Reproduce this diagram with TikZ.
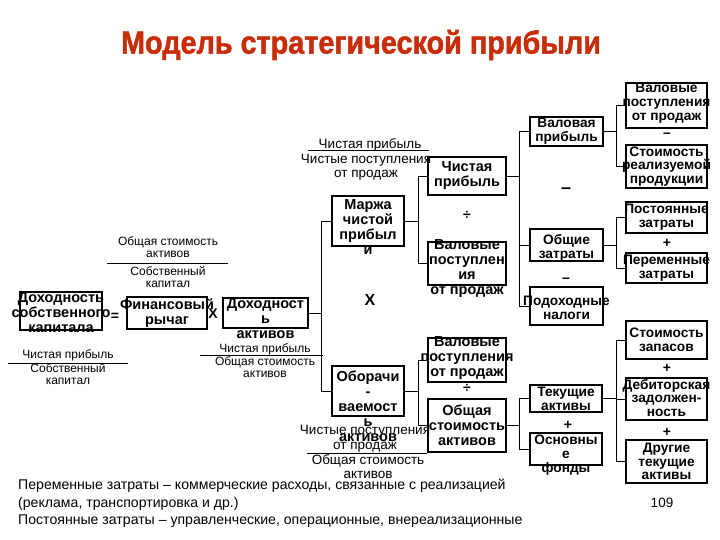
\documentclass[tikz,border=0pt]{standalone}
\usepackage{fontspec}
\setmainfont{Liberation Sans}
\newfontfamily\titlefont[FakeStretch=0.9, BoldFeatures={FakeBold=1.5}]{Liberation Sans}
\usetikzlibrary{positioning}
\definecolor{titlered}{RGB}{200,45,10}

\begin{document}
\begin{tikzpicture}[x=1pt, y=-1pt,
    box/.style={rectangle, draw, line width=1.8pt, inner sep=0pt},
    btxt/.style={align=center, font=\fontsize{14.5}{15}\selectfont\bfseries, inner sep=0pt},
    rtxt/.style={align=center, font=\fontsize{13.7}{13.8}\selectfont\bfseries, inner sep=0pt},
    frac/.style={align=center, font=\fontsize{12}{12.5}\selectfont, inner sep=0pt},
    bigfrac/.style={align=center, font=\fontsize{13.5}{14.5}\selectfont, inner sep=0pt},
    op/.style={font=\fontsize{14}{14}\selectfont\bfseries, inner sep=0pt},
    conn/.style={line width=0.8pt}]
    \useasboundingbox[fill=white] (0,0) rectangle (720,540);

    % title
    \node[font=\titlefont\fontsize{32}{32}\selectfont\bfseries, text=titlered] (title) at (361,45) {Модель стратегической прибыли};

    % left part: return on equity
    \node[box, minimum width=82pt, minimum height=38pt, label={[btxt, yshift=-2pt]center:{Доходность\\собственного\\капитала}}] (roe) at (61,311) {};
    \node[op] (eq) at (115,317) {=};
    \node[box, minimum width=80pt, minimum height=32pt, label={[btxt]center:{Финансовый\\рычаг}}] (lev) at (167,313) {};
    \node[op] (times1) at (213,314) {X};
    \node[box, minimum width=85pt, minimum height=30pt, label={[btxt, yshift=-6pt]center:{Доходност\\ь\\активов}}] (roa) at (265.5,313) {};

    % second level
    \node[box, minimum width=72pt, minimum height=50pt, label={[btxt, yshift=-6.5pt]center:{Маржа\\чистой\\прибыл\\и}}] (margin) at (368,221) {};
    \node[op, font=\fontsize{16}{16}\selectfont\bfseries] (times2) at (370,300) {X};
    \node[box, minimum width=72pt, minimum height=50pt, label={[btxt, yshift=-15pt]center:{Оборачи\\-\\ваемост\\ь\\активов}}] (turn) at (368,391) {};

    % third level
    \node[box, minimum width=78pt, minimum height=38pt, label={[btxt]center:{Чистая\\прибыль}}] (np) at (467,176) {};
    \node[op] (div1) at (467,215) {÷};
    \node[box, minimum width=78pt, minimum height=43pt, label={[btxt, yshift=-5.5pt]center:{Валовые\\поступлен\\ия\\от продаж}}] (sales1) at (467,263.5) {};
    \node[box, minimum width=78pt, minimum height=44pt, label={[btxt, yshift=1.5pt]center:{Валовые\\поступления\\от продаж}}] (sales2) at (467,360) {};
    \node[op] (div2) at (467,388) {÷};
    \node[box, minimum width=78pt, minimum height=53pt, label={[btxt]center:{Общая\\стоимость\\активов}}] (ta) at (467,425.5) {};

    % fourth level
    \node[box, minimum width=73pt, minimum height=29pt, label={[rtxt]center:{Валовая\\прибыль}}] (gp) at (566.5,131.5) {};
    \node[op, font=\fontsize{18}{18}\selectfont\bfseries] (minus1) at (566,191) {–};
    \node[box, minimum width=73pt, minimum height=32pt, label={[rtxt, yshift=-3pt]center:{Общие\\затраты}}] (tc) at (566.5,245) {};
    \node[op] (minus2) at (566,280) {–};
    \node[box, minimum width=73pt, minimum height=38pt, label={[rtxt, yshift=-1.5pt]center:{Подоходные\\налоги}}] (tax) at (566.5,306) {};
    \node[box, minimum width=72pt, minimum height=27pt, label={[rtxt]center:{Текущие\\активы}}] (ca) at (566,398.5) {};
    \node[op] (plus1) at (568,425) {+};
    \node[box, minimum width=72pt, minimum height=32pt, label={[rtxt, yshift=-6pt]center:{Основны\\е\\фонды}}] (fa) at (566,449) {};

    % fifth level
    \node[box, minimum width=81pt, minimum height=45pt, label={[rtxt, yshift=2pt]center:{Валовые\\поступления\\от продаж}}] (sales3) at (666.5,105.5) {};
    \node[op] (minus3) at (667,135) {–};
    \node[box, minimum width=81pt, minimum height=43pt, label={[rtxt]center:{Стоимость\\реализуемой\\продукции}}] (cogs) at (666.5,166.5) {};
    \node[box, minimum width=81pt, minimum height=31pt, label={[rtxt]center:{Постоянные\\затраты}}] (fc) at (666.5,217.5) {};
    \node[op] (plus2) at (667,243) {+};
    \node[box, minimum width=81pt, minimum height=30pt, label={[rtxt]center:{Переменные\\затраты}}] (vc) at (666.5,268) {};
    \node[box, minimum width=81pt, minimum height=38pt, label={[rtxt]center:{Стоимость\\запасов}}] (inv) at (666.5,340) {};
    \node[op] (plus3) at (667,368) {+};
    \node[box, minimum width=81pt, minimum height=42pt, label={[rtxt, yshift=1pt]center:{Дебиторская\\задолжен-\\ность}}] (ar) at (666.5,399) {};
    \node[op] (plus4) at (667,432) {+};
    \node[box, minimum width=81pt, minimum height=43pt, label={[rtxt]center:{Другие\\текущие\\активы}}] (oca) at (666.5,461.5) {};

    % fractions
    \node[frac] (levtop) at (168,247) {Общая стоимость\\активов};
    \node[frac] (levbot) at (168,277) {Собственный\\капитал};
    \draw[conn] (107,263) -- (228,263);
    \node[frac] (roetop) at (68,355) {Чистая прибыль};
    \node[frac] (roebot) at (68,374) {Собственный\\капитал};
    \draw[conn] (8,363) -- (128,363);
    \node[frac] (roatop) at (265,349) {Чистая прибыль};
    \node[frac] (roabot) at (265,367) {Общая стоимость\\активов};
    \draw[conn] (200,355) -- (323,355);
    \node[bigfrac] (margintop) at (370,145) {Чистая прибыль};
    \node[bigfrac] (marginbot) at (366,167.5) {Чистые поступления\\от продаж};
    \draw[conn] (308,150) -- (429,150);
    \node[bigfrac] (turntop) at (365,439) {Чистые поступления\\от продаж};
    \node[bigfrac] (turnbot) at (368,466.5) {Общая стоимость\\активов};
    \draw[conn] (307,453) -- (427,453);

    % connectors
    \draw[conn] (roa.east) -- ++(12,0) |- (margin.west);
    \draw[conn] (roa.east) -- ++(12,0) |- (turn.west);
    \draw[conn] (margin.east) -- ++(13,0) |- (np.west);
    \draw[conn] (margin.east) -- ++(13,0) |- (sales1.west);
    \draw[conn] (turn.east) -- ++(13,0) |- (sales2.west);
    \draw[conn] (turn.east) -- ++(13,0) |- (ta.west);
    \draw[conn] (np.east) -- ++(12,0) |- (gp.west);
    \draw[conn] (np.east) -- ++(12,0) |- (tc.west);
    \draw[conn] (np.east) -- ++(12,0) |- (tax.west);
    \draw[conn] (gp.east) -- ++(12,0) |- (sales3.west);
    \draw[conn] (gp.east) -- ++(12,0) |- (cogs.west);
    \draw[conn] (tc.east) -- ++(12,0) |- (fc.west);
    \draw[conn] (tc.east) -- ++(12,0) |- (vc.west);
    \draw[conn] (ta.east) -- ++(12,0) |- (ca.west);
    \draw[conn] (ta.east) -- ++(12,0) |- (fa.west);
    \draw[conn] (ca.east) -- ++(13,0) |- (inv.west);
    \draw[conn] (ca.east) -- ++(13,0) |- (ar.west);
    \draw[conn] (ca.east) -- ++(13,0) |- (oca.west);

    % notes
    \node[anchor=west, align=left, inner sep=0pt, font=\fontsize{14.1}{17.5}\selectfont] (note) at (18,503.5) {Переменные затраты – коммерческие расходы, связанные с реализацией\\(реклама, транспортировка и др.)\\Постоянные затраты – управленческие, операционные, внереализационные};
    \node[font=\fontsize{13.5}{13.5}\selectfont] (page) at (662,503) {109};
\end{tikzpicture}
\end{document}
